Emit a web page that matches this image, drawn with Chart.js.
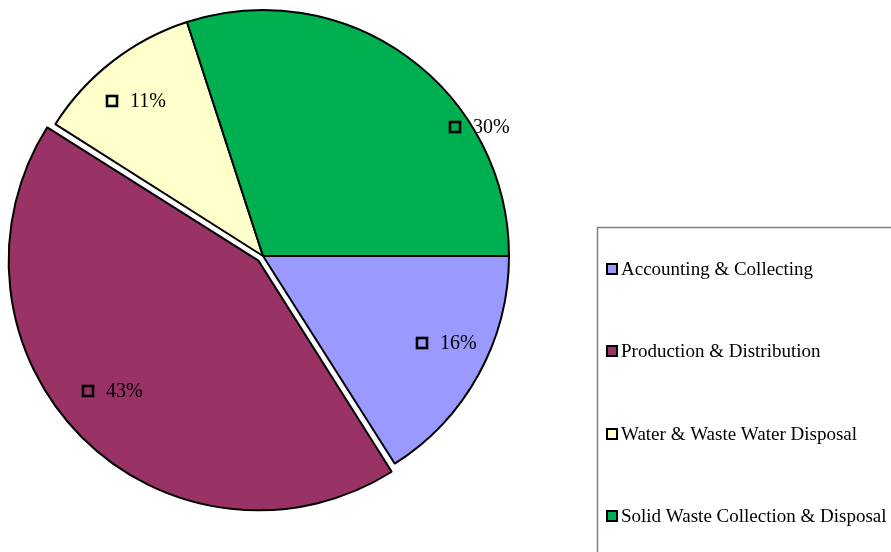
<!DOCTYPE html>
<html>
<head>
<meta charset="utf-8">
<style>
  html, body { margin: 0; padding: 0; background: #fff; }
  #wrap { width: 891px; height: 552px; }
</style>
<script src="https://cdn.jsdelivr.net/npm/chart.js@4/dist/chart.umd.min.js"></script>
</head>
<body>
<div id="wrap"><canvas id="dept_share_cntxt" width="891" height="552"></canvas></div>
<script>
var categories = ["Accounting & Collecting", "Production & Distribution", "Water & Waste Water Disposal", "Solid Waste Collection & Disposal"];
var shares = [16, 43, 11, 30];
var sliceColors = ['#9999FF', '#993366', '#FFFFCC', '#00B050'];
var sliceOffsets = [0, 26, 0, 0];

// where each percent label sits: angle nudge (deg) from slice middle, fraction of radius
var labelNudge = [0, 7.5, -6.6, 20];
var labelRadius = [0.738, 0.872, 0.88, 0.94];

var pctLabels = {
    id: 'pctLabels',
    afterDatasetsDraw: function(chart) {
        var ctx = chart.ctx;
        var meta = chart.getDatasetMeta(0);
        var total = shares.reduce(function(a, b) { return a + b; }, 0);
        ctx.save();
        meta.data.forEach(function(arc, i) {
            var mid = (arc.startAngle + arc.endAngle) / 2;
            var shift = sliceOffsets[i] / 4;
            var cx = arc.x + Math.cos(mid) * shift;
            var cy = arc.y + Math.sin(mid) * shift;
            var a = mid + labelNudge[i] * Math.PI / 180;
            var r = arc.outerRadius * labelRadius[i];
            var x = Math.round(cx + Math.cos(a) * r);
            var y = Math.round(cy + Math.sin(a) * r);
            ctx.fillStyle = sliceColors[i];
            ctx.fillRect(x - 5, y - 5, 10, 10);
            ctx.lineWidth = 2.6;
            ctx.strokeStyle = '#000';
            ctx.strokeRect(x - 5, y - 5, 10, 10);
            ctx.fillStyle = '#000';
            ctx.font = '20px "Liberation Serif", "Times New Roman", serif';
            ctx.textAlign = 'left';
            ctx.textBaseline = 'middle';
            ctx.fillText(Math.round(shares[i] / total * 100) + '%', x + 18, y + 1);
        });
        ctx.restore();
    }
};

var boxLegend = {
    id: 'boxLegend',
    afterDraw: function(chart) {
        var ctx = chart.ctx;
        ctx.save();
        ctx.strokeStyle = '#7f7f7f';
        ctx.lineWidth = 1.5;
        ctx.strokeRect(597.5, 227.5, 400, 400);
        ctx.font = '19px "Liberation Serif", "Times New Roman", serif';
        ctx.textAlign = 'left';
        ctx.textBaseline = 'middle';
        categories.forEach(function(name, i) {
            var y = 269 + i * 82.4;
            ctx.fillStyle = sliceColors[i];
            ctx.fillRect(607, Math.round(y) - 5, 10, 10);
            ctx.strokeStyle = '#000';
            ctx.lineWidth = 2;
            ctx.strokeRect(607, Math.round(y) - 5, 10, 10);
            ctx.fillStyle = '#000';
            ctx.fillText(name, 621, y + 1);
        });
        ctx.restore();
    }
};

var current_cntxt = document.getElementById("dept_share_cntxt").getContext('2d');
var dept_share_chart = new Chart(current_cntxt, {
    type: 'pie',
    data: {
        labels: categories,
        datasets: [{
            data: shares,
            backgroundColor: sliceColors,
            borderColor: '#000',
            borderWidth: 2,
            offset: sliceOffsets
        }]
    },
    options: {
        responsive: false,
        animation: false,
        events: [],
        rotation: 90,
        radius: 246,
        layout: { padding: { left: 0, top: 0, right: 365, bottom: 40 } },
        plugins: {
            legend: { display: false },
            tooltip: { enabled: false }
        }
    },
    plugins: [pctLabels, boxLegend]
});
</script>
</body>
</html>
